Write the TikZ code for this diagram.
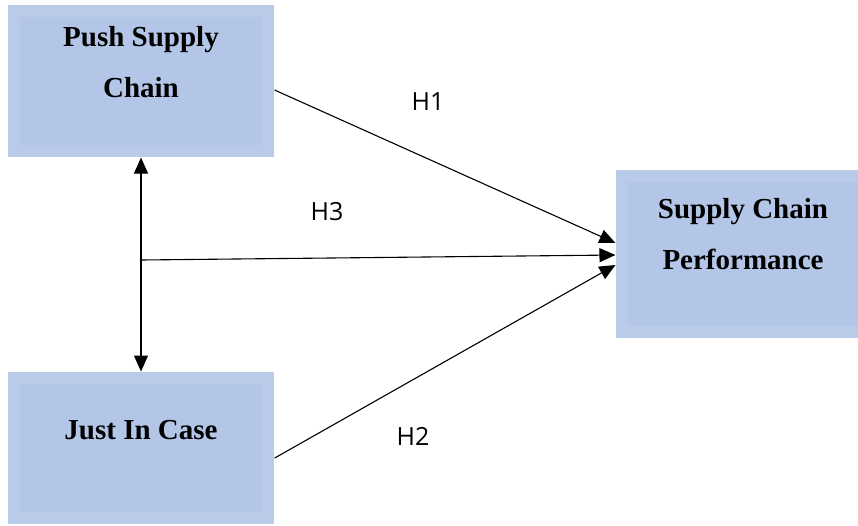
\documentclass[tikz,border=0pt]{standalone}
\usepackage{fontspec}
\setmainfont{Liberation Serif}
\newfontfamily\hfont{Open Sans}
\usetikzlibrary{arrows.meta,positioning}
\definecolor{boxblue}{RGB}{180,198,231}
\definecolor{boxrim}{RGB}{186,203,234}

\begin{document}
\begin{tikzpicture}[x=1pt,y=-1pt,>={Triangle[width=14pt,length=16pt]},line width=1.1pt,
    main node/.style={fill=boxrim,minimum width=266pt,minimum height=152pt,align=center,
        font=\bfseries\fontsize{29}{51}\selectfont,text depth=38pt,
        path picture={\fill[boxblue] ([shift={(12pt,-12pt)}]path picture bounding box.north west)
            rectangle ([shift={(-12pt,12pt)}]path picture bounding box.south east);}},
    hyp/.style={font=\hfont\fontsize{25}{30}\selectfont}]

    \useasboundingbox (0,0) rectangle (858,525);

    \node (push) [main node] at (141,81) {Push Supply\\Chain};
    \node (jic) [main node,below=214pt of push,text depth=36pt] {Just In Case};
    \node (perf) [main node,minimum width=254pt,minimum height=168pt,text depth=40pt] at (743,254) {Supply Chain\\Performance};

    \coordinate (split) at (141,260);

    \node (h1) [hyp] at (428,102) {H1};
    \node (h3) [hyp] at (327,212) {H3};
    \node (h2) [hyp] at (413,436) {H2};

    % links
    \draw[<->] (push) -- (jic);
    \draw[->] ([yshift=-9pt]push.east) -- ([yshift=11pt]perf.west);
    \draw[->] (split) -- ([yshift=-1pt]perf.west);
    \draw[->] ([yshift=-10pt]jic.east) -- ([yshift=-11pt]perf.west);
\end{tikzpicture}
\end{document}
